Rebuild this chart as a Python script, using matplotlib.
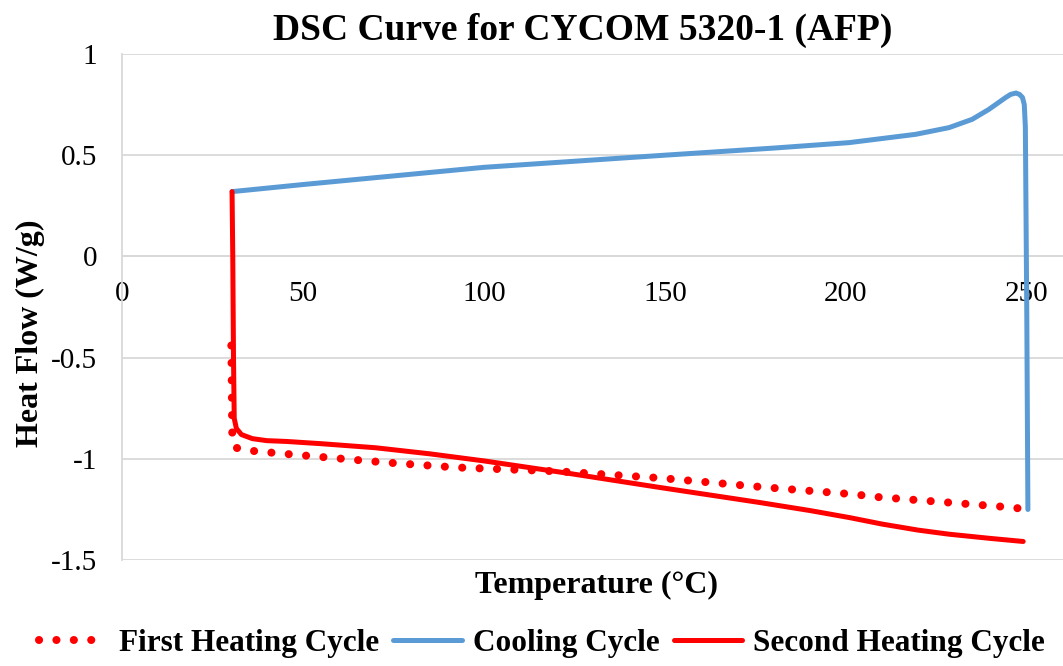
import numpy as np
import matplotlib
matplotlib.use('Agg')
import matplotlib.pyplot as plt

plt.rcParams['font.family'] = ['Liberation Serif', 'DejaVu Serif']

# First heating cycle (dotted)
temp_first = [30.2, 30.3, 30.4, 30.5, 31.5, 33.9, 43.6, 58.0, 73.0, 92.0, 121.0,
              149.0, 178.0, 203.0, 207.0, 228.0, 246.0, 248.0]
flow_first = [-0.44, -0.60, -0.80, -0.92, -0.945, -0.957, -0.973, -0.995, -1.018,
              -1.042, -1.062, -1.095, -1.141, -1.176, -1.186, -1.215, -1.240, -1.245]

# Cooling cycle (from 250 down to 30)
temp_cool = [250.3, 250.0, 249.6, 249.3, 248.8, 248.0, 247.0, 245.5, 244.1, 239.5,
             234.9, 228.5, 219.3, 200.9, 180.0, 150.0, 100.0, 50.0, 30.4]
flow_cool = [-1.25, -0.30, 0.640, 0.750, 0.785, 0.800, 0.807, 0.800, 0.784, 0.726,
             0.677, 0.636, 0.603, 0.562, 0.535, 0.500, 0.440, 0.355, 0.320]

# Second heating cycle (solid)
temp_second = [30.4, 30.6, 30.8, 31.0, 31.6, 33.0, 36.0, 40.0, 45.5, 55.0, 70.0,
               85.0, 100.0, 123.6, 148.5, 176.0, 190.0, 201.0, 210.0, 220.0,
               228.5, 240.0, 249.0]
flow_second = [0.32, 0.0, -0.50, -0.80, -0.850, -0.880, -0.900, -0.910, -0.914,
               -0.925, -0.945, -0.975, -1.010, -1.072, -1.141, -1.215, -1.255,
               -1.290, -1.322, -1.352, -1.372, -1.393, -1.408]

x_ticks = [0, 50, 100, 150, 200, 250]
y_ticks = [-1.5, -1, -0.5, 0, 0.5, 1]
y_labels = ['-1.5', '-1', '-0.5', '0', '0.5', '1']

fig = plt.figure(figsize=(10.63, 6.66), dpi=100)
ax = fig.add_axes([0.1148, 0.159, 0.8852, 0.760])

red = '#FF0000'
blue = '#5B9BD5'

ax.plot(temp_first, flow_first, color=red, lw=5.8, linestyle=(0, (0.01, 2.15)),
        dash_capstyle='round', label='First Heating Cycle', zorder=3)
ax.plot(temp_cool, flow_cool, color=blue, lw=3.6, solid_capstyle='round',
        solid_joinstyle='round', label='Cooling Cycle', zorder=3)
ax.plot(temp_second, flow_second, color=red, lw=3.6, solid_capstyle='round',
        solid_joinstyle='round', label='Second Heating Cycle', zorder=4)

ax.set_xlim(0, 260)
ax.set_ylim(-1.5, 1)
ax.set_xticks(x_ticks)
ax.set_yticks(y_ticks)
ax.set_yticklabels(y_labels)

ax.grid(axis='y', color='#D9D9D9', lw=1.3, zorder=0)
ax.set_axisbelow(True)
for s in ['top', 'right']:
    ax.spines[s].set_visible(False)
ax.spines['bottom'].set_position(('data', 0))
ax.spines['bottom'].set_color('#D9D9D9')
ax.spines['bottom'].set_linewidth(1.3)
ax.spines['left'].set_color('#D9D9D9')
ax.spines['left'].set_linewidth(1.3)
ax.tick_params(axis='both', length=0, labelsize=21)
ax.tick_params(axis='x', pad=18)
ax.tick_params(axis='y', pad=18)

ax.set_title('DSC Curve for CYCOM 5320-1 (AFP)', fontsize=27, fontweight='bold',
             x=0.49, pad=10)
fig.text(0.561, 0.121, 'Temperature (°C)', ha='center', va='center',
         fontsize=23, fontweight='bold')
fig.text(0.029, 0.50, 'Heat Flow (W/g)', ha='center', va='center',
         rotation=90, fontsize=23, fontweight='bold')

fig.legend(loc='center', bbox_to_anchor=(0.51, 0.034), ncol=3, frameon=False,
           prop={'size': 22.5, 'weight': 'bold'}, handlelength=2.2,
           handletextpad=0.35, columnspacing=0.45)

fig.savefig('out.png', dpi=100)
